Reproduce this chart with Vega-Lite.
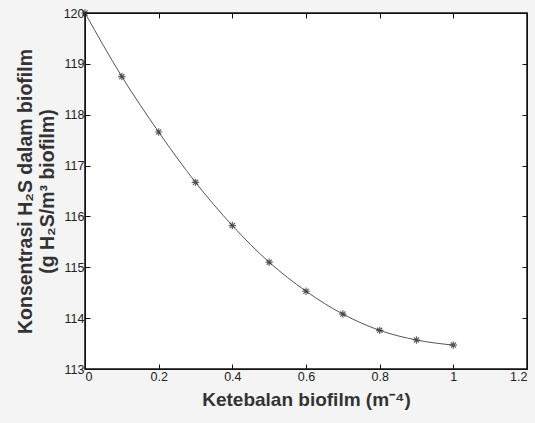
{
  "$schema": "https://vega.github.io/schema/vega-lite/v6.json",
  "width": 442,
  "height": 356,
  "autosize": "none",
  "padding": {"left": 85, "top": 13, "right": 8, "bottom": 54},
  "background": "#f4f4f4",
  "config": {
    "view": {"stroke": "#111", "strokeWidth": 1.5, "fill": "white"},
    "axis": {"labelFont": "Liberation Sans", "titleFont": "Liberation Sans", "labelColor": "#222", "titleColor": "#333", "domainColor": "#111", "tickColor": "#111", "grid": false}
  },
  "data": {"values": [
    {"x": 0.0, "y": 120.0},
    {"x": 0.1, "y": 118.75},
    {"x": 0.2, "y": 117.66},
    {"x": 0.3, "y": 116.67},
    {"x": 0.4, "y": 115.82},
    {"x": 0.5, "y": 115.10},
    {"x": 0.6, "y": 114.53},
    {"x": 0.7, "y": 114.08},
    {"x": 0.8, "y": 113.76},
    {"x": 0.9, "y": 113.57},
    {"x": 1.0, "y": 113.47}
  ]},
  "layer": [
    {
      "mark": {"type": "line", "color": "#555", "strokeWidth": 1, "interpolate": "monotone"},
      "encoding": {
        "x": {"field": "x", "type": "quantitative", "scale": {"domain": [0, 1.2], "nice": false},
          "axis": {"orient": "bottom", "values": [0, 0.2, 0.4, 0.6, 0.8, 1, 1.2], "format": "~g", "tickSize": -5, "labelFontSize": 12.5, "labelPadding": 6,
            "title": "Ketebalan biofilm (m⁻⁴)", "titleFontSize": 19, "titleFontWeight": "bold", "titlePadding": 8, "domain": true}},
        "y": {"field": "y", "type": "quantitative", "scale": {"domain": [113, 120], "nice": false, "zero": false},
          "axis": {"orient": "left", "values": [113, 114, 115, 116, 117, 118, 119, 120], "tickSize": -5, "labelFontSize": 12.5, "labelPadding": 6,
            "title": ["Konsentrasi H₂S dalam biofilm", "(g H₂S/m³ biofilm)"], "titleFontSize": 19.5, "titleFontWeight": "bold", "titlePadding": 6, "titleLineHeight": 22}}
      }
    },
    {
      "mark": {"type": "point", "shape": "M -1 0 L 1 0 M 0 -1 L 0 1 M -0.7 -0.7 L 0.7 0.7 M -0.7 0.7 L 0.7 -0.7", "filled": false, "stroke": "#222", "strokeWidth": 1.2, "size": 55},
      "encoding": {
        "x": {"field": "x", "type": "quantitative", "axis": {"orient": "top", "values": [0, 0.2, 0.4, 0.6, 0.8, 1, 1.2], "tickSize": -5, "labels": false, "title": null}},
        "y": {"field": "y", "type": "quantitative", "axis": {"orient": "right", "values": [113, 114, 115, 116, 117, 118, 119, 120], "tickSize": -5, "labels": false, "title": null}}
      }
    }
  ],
  "resolve": {"axis": {"x": "independent", "y": "independent"}}
}
